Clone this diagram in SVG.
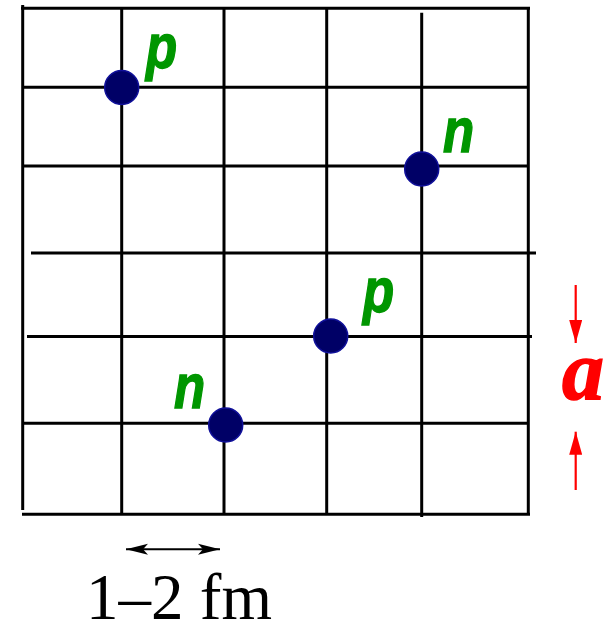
<svg xmlns="http://www.w3.org/2000/svg" width="615" height="625" viewBox="0 0 615 625">
<style>
.g{stroke:#000;stroke-width:3;fill:none}
.nuc{fill:#000066;stroke:#10109a;stroke-width:1.5}
.lbl{fill:#009600;stroke:#009600;stroke-width:1.2;font-family:"Liberation Sans",Arial,sans-serif;font-weight:bold;font-style:italic;font-size:51px}
.red{stroke:#ff0000;stroke-width:2.2;fill:none}
</style>
<defs>
<marker id="rh" viewBox="0 0 23 13" refX="23" refY="6.5" markerWidth="23" markerHeight="13" markerUnits="userSpaceOnUse" orient="auto">
<path d="M0,0 L23,6.5 L0,13 Z" fill="#ff0000"/>
</marker>
<marker id="bh" viewBox="0 0 22 14" refX="22" refY="7" markerWidth="22" markerHeight="14" markerUnits="userSpaceOnUse" orient="auto-start-reverse">
<path d="M0,1.5 L22,7 L0,12.5 L5,7 Z" fill="#000"/>
</marker>
</defs>
<g id="grid" class="g">
<line x1="22.7" y1="5" x2="22.7" y2="510"/>
<line x1="121.7" y1="8" x2="121.7" y2="514"/>
<line x1="224" y1="8" x2="224" y2="514"/>
<line x1="326.7" y1="8" x2="326.7" y2="514"/>
<line x1="421.7" y1="12.7" x2="421.7" y2="517"/>
<line x1="528.3" y1="8" x2="528.3" y2="514"/>
<line x1="21" y1="8.3" x2="530" y2="8.3"/>
<line x1="22" y1="87.3" x2="528" y2="87.3"/>
<line x1="22" y1="166" x2="528" y2="166"/>
<line x1="31" y1="253" x2="536" y2="253"/>
<line x1="27" y1="336.5" x2="532" y2="336.5"/>
<line x1="22" y1="423.3" x2="528" y2="423.3"/>
<line x1="22" y1="514.3" x2="530" y2="514.3"/>
</g>
<g id="nucleon-p1"><circle class="nuc" cx="121.7" cy="87.5" r="17"/><text class="lbl" transform="translate(146,68) scale(1,1.25)">p</text></g>
<g id="nucleon-n1"><circle class="nuc" cx="421.7" cy="169" r="17"/><text class="lbl" transform="translate(443,152) scale(1,1.25)">n</text></g>
<g id="nucleon-p2"><circle class="nuc" cx="330.7" cy="336" r="17"/><text class="lbl" transform="translate(363,312) scale(1,1.25)">p</text></g>
<g id="nucleon-n2"><circle class="nuc" cx="225.7" cy="425" r="17"/><text class="lbl" transform="translate(174,408) scale(1,1.25)">n</text></g>
<g id="connectors">
<line class="red" x1="575.7" y1="285" x2="575.7" y2="343" marker-end="url(#rh)"/>
<line class="red" x1="575.7" y1="490" x2="575.7" y2="431.7" marker-end="url(#rh)"/>
<line x1="126" y1="549.3" x2="220" y2="549.3" stroke="#000" stroke-width="2" marker-start="url(#bh)" marker-end="url(#bh)"/>
</g>
<text x="583" y="399" text-anchor="middle" fill="#ff0000" stroke="#ff0000" stroke-width="1.5" font-family="'Liberation Serif','Times New Roman',serif" font-weight="bold" font-style="italic" font-size="84">a</text>
<text x="86" y="619" fill="#000" font-family="'Liberation Serif','Times New Roman',serif" font-size="65">1–2 fm</text>
</svg>
